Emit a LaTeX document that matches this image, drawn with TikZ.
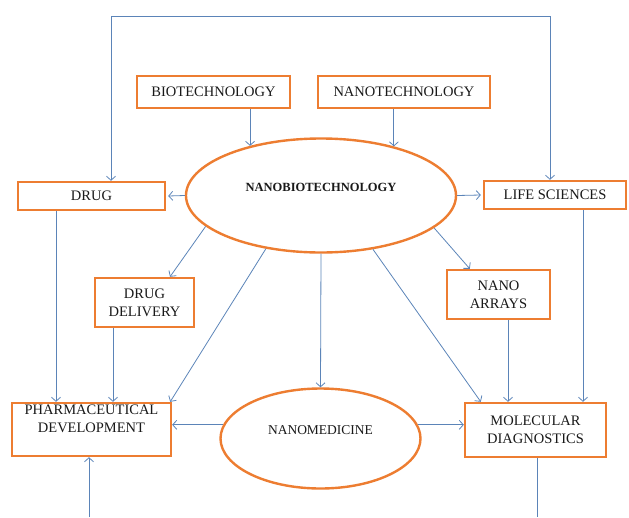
\documentclass[tikz,border=0pt]{standalone}
\usepackage{fontspec}
\setmainfont{Liberation Serif}
\usetikzlibrary{arrows.meta,shapes.geometric}
\definecolor{borange}{HTML}{ED7D31}
\definecolor{lblue}{HTML}{5B84B8}
\tikzset{
  box/.style={draw=borange, line width=2.4pt, fill=white, inner sep=0pt, align=center,
    font=\fontsize{14.5}{18}\selectfont, text=black!90},
  ellbox/.style={ellipse, draw=borange, line width=2.4pt, fill=white, inner sep=0pt},
  lab/.style={font=\fontsize{14.5}{18}\selectfont, text=black!90},
  arr/.style={draw=lblue, line width=0.8pt, -{Straight Barb[length=4pt,width=9pt]}},
  arrboth/.style={draw=lblue, line width=0.8pt, {Straight Barb[length=4pt,width=9pt]}-{Straight Barb[length=4pt,width=9pt]}},
  plain/.style={draw=lblue, line width=0.8pt}
}
\begin{document}
\begin{tikzpicture}[x=1pt,y=-1pt]
\useasboundingbox (0,0) rectangle (629,517);
% boxes
\node[box, minimum width=153pt, minimum height=32pt] (bio) at (213.5,92) {BIOTECHNOLOGY};
\node[box, minimum width=172pt, minimum height=32pt] (nano) at (404,92) {NANOTECHNOLOGY};
\node[box, minimum width=147pt, minimum height=28pt] (drug) at (91.5,196) {DRUG};
\node[box, minimum width=142pt, minimum height=28pt] (life) at (555,195) {LIFE SCIENCES};
\node[box, minimum width=99pt, minimum height=49pt] (deliv) at (144.5,302.5) {DRUG\\DELIVERY};
\node[box, minimum width=103pt, minimum height=49pt] (arrays) at (498.5,294.5) {NANO\\ARRAYS};
\node[box, minimum width=159pt, minimum height=53pt] (pharma) at (91.5,429.5) {PHARMACEUTICAL\\DEVELOPMENT\\[4pt]};
\node[box, minimum width=141pt, minimum height=54pt] (molec) at (535.5,430) {MOLECULAR\\DIAGNOSTICS};
% ellipses
\node[ellbox, minimum width=270pt, minimum height=114pt] (nb) at (321,195.5) {};
\node[font=\bfseries\fontsize{12.5}{15}\selectfont, text=black!90] (nbt) at (321,187) {NANOBIOTECHNOLOGY};
\node[ellbox, minimum width=200pt, minimum height=100pt] (nm) at (320.5,438.5) {};
\node[lab, font=\fontsize{13.5}{16}\selectfont] (nmt) at (320.5,430) {NANOMEDICINE};
% attach points on ellipses
\coordinate (nbA) at (nb.145.7);
\coordinate (nbB) at (nb.34.7);
\coordinate (nbC) at (nb.195.6);
\coordinate (nbD) at (nb.224.7);
\coordinate (nbE) at (nb.314.2);
\coordinate (nbF) at (nb.344.7);
\coordinate (nmL) at (nm.172);
\coordinate (nmR) at (nm.8);
\coordinate (loopL) at (111,16);
\coordinate (loopR) at (550,16);
\coordinate (botL) at (89,517);
\coordinate (botR) at (537,517);
% connectors
\draw[arr] (bio.south -| nbA) -- (nbA);
\draw[arr] (nano.south -| nbB) -- (nbB);
\draw[arr] (nb.west) -- ([xshift=2pt]drug.east);
\draw[arr] (nb.east) -- ([xshift=-2pt]life.west);
\draw[arrboth] (loopL |- drug.north) -- (loopL) -- (loopR) -- (loopR |- life.north);
\draw[arr] (nbC) -- ([xshift=25.5pt]deliv.north);
\draw[arr] (nbD) -- ([xshift=-2pt]pharma.north east);
\draw[arr] (nb.south) -- (nm.north);
\draw[arr] (nbE) -- ([xshift=17pt]molec.north west);
\draw[arr] (nbF) -- ([xshift=24pt]arrays.north west);
\draw[arr] ([xshift=-35.5pt]drug.south) -- ([xshift=-35.5pt]drug.south |- pharma.north);
\draw[arr] ([xshift=-31.5pt]deliv.south) -- ([xshift=-31.5pt]deliv.south |- pharma.north);
\draw[arr] ([xshift=9.5pt]arrays.south) -- ([xshift=9.5pt]arrays.south |- molec.north);
\draw[arr] ([xshift=28pt]life.south) -- ([xshift=28pt]life.south |- molec.north);
\draw[arr] (nmL) -- (nmL -| pharma.east);
\draw[arr] (nmR) -- (nmR -| molec.west);
\draw[arr] (botL) -- (botL |- pharma.south);
\draw[plain] (botR |- molec.south) -- (botR);
\end{tikzpicture}
\end{document}
